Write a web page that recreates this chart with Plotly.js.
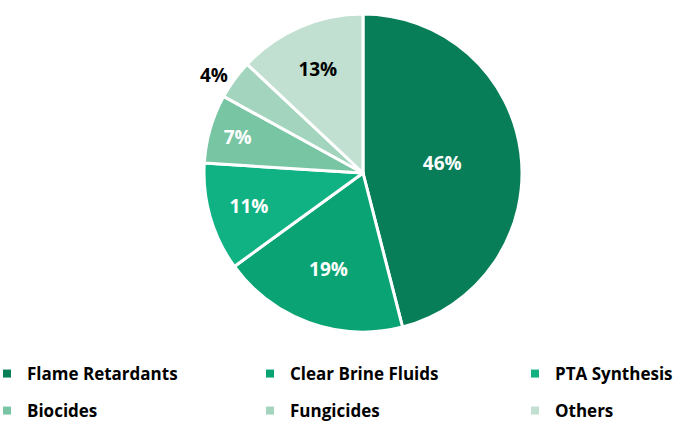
<!DOCTYPE html>
<html><head><meta charset="utf-8">
<script src="https://cdn.plot.ly/plotly-3.0.1.min.js"></script>
<style>html,body{margin:0;padding:0;background:#fff}#c{width:678px;height:421px}</style>
</head><body><div id="c"></div>
<script>
const categories = ["Flame Retardants","Clear Brine Fluids","PTA Synthesis","Biocides","Fungicides","Others"];
const shares = [46,19,11,7,4,13];
const colors = ["#077D58","#0AA374","#10B283","#78C5A3","#A3D4BD","#C2E0D2"];
const textColors = ["#fff","#fff","#fff","#fff","#000","#000"];
const textPos = ["inside","inside","inside","inside","outside","inside"];
const F = "'Open Sans', Lato, sans-serif";

const pie = {
  type:"pie", values:shares, labels:categories, sort:false, direction:"clockwise", rotation:0,
  marker:{colors:colors, line:{color:"#fff", width:3}},
  texttemplate:"%{value}%", textinfo:"text", textposition:textPos,
  insidetextorientation:"horizontal",
  textfont:{family:F, size:19, color:textColors, weight:"bold"},
  hoverinfo:"none",
  domain:{x:[204/678,522/678], y:[(421-332)/421,(421-14)/421]},
  showlegend:false
};
const legX = [0, 250, 515, 0, 250, 515];
const legY = [374, 374, 374, 411, 411, 411];
const legNames = ["legend","legend2","legend3","legend4","legend5","legend6"];
const legTraces = categories.map((c,i)=>({
  type:"scatter", x:[null], y:[null], mode:"markers", name:c,
  marker:{symbol:"square", size:8, color:colors[i]},
  legend: legNames[i], showlegend:true, hoverinfo:"none"
}));
const layout = {
  width:678, height:421, margin:{l:0,r:0,t:0,b:0,autoexpand:false}, paper_bgcolor:"#fff", plot_bgcolor:"#fff",
  xaxis:{visible:false}, yaxis:{visible:false}, showlegend:true
};
legNames.forEach((n,i)=>{
  layout[n] = {x:legX[i]/678, y:(421-legY[i])/421, xanchor:"left", yanchor:"middle",
    orientation:"v", itemwidth:30, borderwidth:0, bgcolor:"rgba(0,0,0,0)",
    indentation: i%3===0 ? -13 : 0,
    font:{family:F, size:17, color:"#000", weight:"bold"}};
});
Plotly.newPlot("c",[pie].concat(legTraces),layout,{displayModeBar:false,staticPlot:true});
</script></body></html>
